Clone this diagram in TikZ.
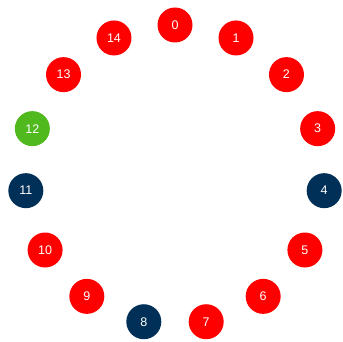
\documentclass[tikz,border=0pt]{standalone}
\usepackage{fontspec}
\setmainfont{Liberation Sans}
\usetikzlibrary{calc}
\definecolor{nred}{HTML}{FF0000}
\definecolor{ngreen}{HTML}{4FB91D}
\definecolor{nblue}{HTML}{003057}
\begin{document}
\begin{tikzpicture}[x=1pt,y=1pt,
  dot/.style={circle,fill=#1,draw=none,minimum size=35pt,inner sep=0pt,text=white,font=\fontsize{12.5}{14}\selectfont}]
\useasboundingbox (0,0) rectangle (343,341);
\foreach \i in {0,...,14}{
  \pgfmathsetmacro{\ang}{90-24*\i}
  \ifnum\i=12 \def\c{ngreen}\else
    \ifnum\i=4 \def\c{nblue}\else
      \ifnum\i=8 \def\c{nblue}\else
        \ifnum\i=11 \def\c{nblue}\else \def\c{nred}\fi\fi\fi\fi
  \node[dot=\c] (n\i) at ($(175,166)+(\ang:150)$) {\i};
}
\end{tikzpicture}
\end{document}
